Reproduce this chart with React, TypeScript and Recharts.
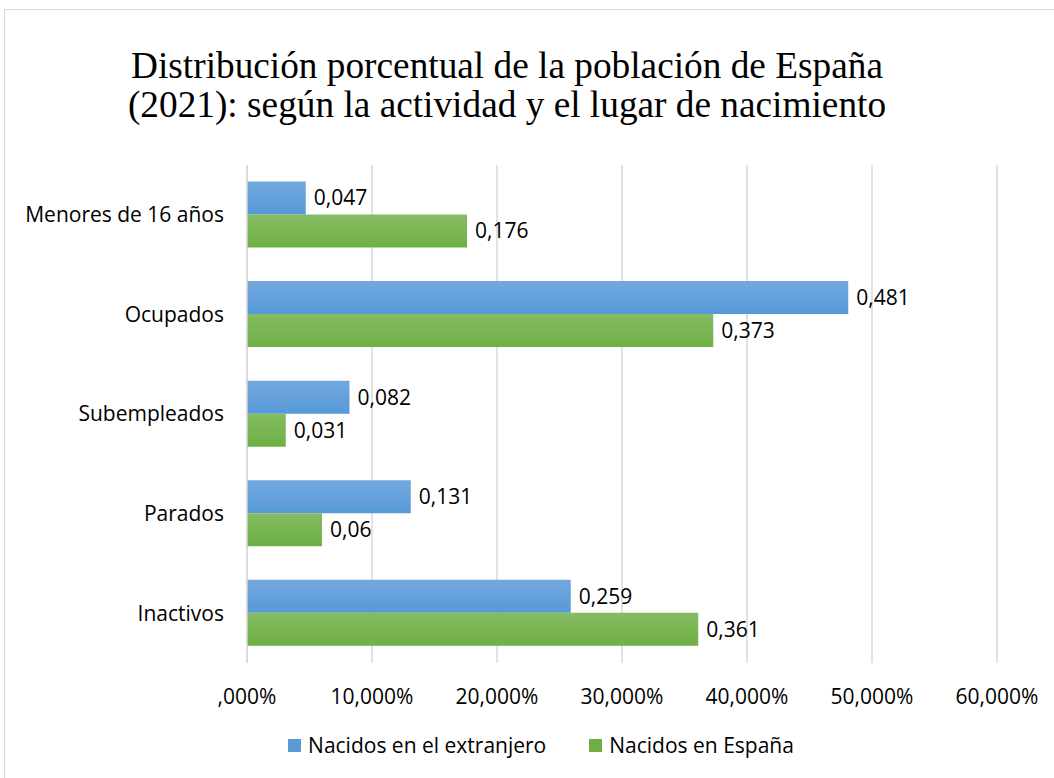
import React from "react";
import { BarChart, Bar, XAxis, YAxis, CartesianGrid, Legend, LabelList } from "recharts";

const categories = ["Menores de 16 años", "Ocupados", "Subempleados", "Parados", "Inactivos"];
const extranjero = [0.047, 0.481, 0.082, 0.131, 0.259];
const espana = [0.176, 0.373, 0.031, 0.06, 0.361];
const xTicks = [0, 0.1, 0.2, 0.3, 0.4, 0.5, 0.6];
const seriesNames = ["Nacidos en el extranjero", "Nacidos en España"];
const seriesColors = ["#5b9bd5", "#70ad47"];

const data = categories.map((c, i) => ({ name: c, ext: extranjero[i], esp: espana[i] }));

const fmtTick = (v: number) => {
  const s = (v * 100).toFixed(3).replace(".", ",");
  return s.startsWith("0,") ? s.slice(1) + "%" : s + "%";
};
const fmtLabel = (v: any) => String(v).replace(".", ",");

const FONT = "'Open Sans', Lato, sans-serif";
const FS = 21;

const LegendContent = () => (
  <div
    style={{
      display: "flex",
      justifyContent: "center",
      alignItems: "center",
      height: 30,
      gap: 43,
      fontFamily: FONT,
      fontSize: FS,
      color: "#000",
      paddingLeft: 85,
    }}
  >
    {seriesNames.map((n, i) => (
      <div key={n} style={{ display: "flex", alignItems: "center", gap: 7 }}>
        <span style={{ display: "inline-block", width: 13, height: 13, background: seriesColors[i] }} />
        <span>{n}</span>
      </div>
    ))}
  </div>
);

export default function App() {
  return (
    <div style={{ position: "absolute", left: 0, top: 0, width: 1054, height: 778, background: "#fff", overflow: "hidden" }}>
      <div style={{ position: "absolute", left: 4, top: 9, width: 1100, height: 800, border: "1.5px solid #d9d9d9", boxSizing: "border-box" }} />
      <div
        style={{
          position: "absolute",
          left: 0,
          width: 1014,
          top: 46,
          textAlign: "center",
          fontFamily: "'Liberation Serif', 'Times New Roman', serif",
          fontSize: 37.3,
          lineHeight: "39px",
          color: "#000",
        }}
      >
        Distribución porcentual de la población de España
        <br />
        (2021): según la actividad y el lugar de nacimiento
      </div>
      <div style={{ position: "absolute", left: 0, top: 0 }}>
        <BarChart
          width={1054}
          height={778}
          data={data}
          layout="vertical"
          margin={{ top: 165, right: 57, bottom: 18, left: 0 }}
          barCategoryGap="16.5%"
          barGap={0}
        >
          <defs>
            <linearGradient id="gBlue" x1="0" y1="0" x2="0" y2="1">
              <stop offset="0%" stopColor="#74a8de" />
              <stop offset="100%" stopColor="#5599d8" />
            </linearGradient>
            <linearGradient id="gGreen" x1="0" y1="0" x2="0" y2="1">
              <stop offset="0%" stopColor="#86bb63" />
              <stop offset="100%" stopColor="#6eb043" />
            </linearGradient>
          </defs>
          <CartesianGrid horizontal={false} stroke="#d9d9d9" strokeWidth={1.5} />
          <XAxis
            type="number"
            domain={[0, 0.6]}
            ticks={xTicks}
            tickFormatter={fmtTick}
            axisLine={false}
            tickLine={false}
            tickMargin={20}
            height={67}
            interval={0}
            tick={{ fill: "#000", fontSize: FS, fontFamily: FONT }}
          />
          <YAxis
            type="category"
            dataKey="name"
            width={247}
            axisLine={{ stroke: "#d9d9d9", strokeWidth: 1.5 }}
            tickLine={false}
            tickMargin={17}
            tick={{ fill: "#000", fontSize: FS, fontFamily: FONT }}
          />
          <Legend verticalAlign="bottom" content={<LegendContent />} />
          <Bar dataKey="ext" name={seriesNames[0]} fill="url(#gBlue)" isAnimationActive={false}>
            <LabelList dataKey="ext" position="right" offset={8} formatter={fmtLabel} style={{ fill: "#000", fontSize: FS, fontFamily: FONT }} />
          </Bar>
          <Bar dataKey="esp" name={seriesNames[1]} fill="url(#gGreen)" isAnimationActive={false}>
            <LabelList dataKey="esp" position="right" offset={8} formatter={fmtLabel} style={{ fill: "#000", fontSize: FS, fontFamily: FONT }} />
          </Bar>
        </BarChart>
      </div>
    </div>
  );
}
